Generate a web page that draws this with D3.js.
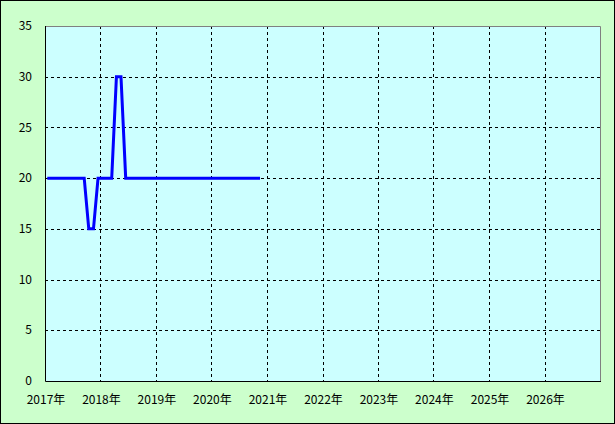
<!DOCTYPE html>
<html>
<head>
<meta charset="utf-8">
<script src="https://cdn.jsdelivr.net/npm/d3@7"></script>
<style>
  html, body { margin: 0; padding: 0; background: #fff; }
  svg { display: block; }
  text { font-family: "Noto Sans CJK JP", "DejaVu Sans", sans-serif; font-size: 12px; fill: #000; }
</style>
</head>
<body>
<div id="chart"></div>
<script>
// monthly readings, Jan 2017 .. Nov 2020
var months = [
    "2017-01", "2017-02", "2017-03", "2017-04", "2017-05", "2017-06",
    "2017-07", "2017-08", "2017-09", "2017-10", "2017-11", "2017-12",
    "2018-01", "2018-02", "2018-03", "2018-04", "2018-05", "2018-06",
    "2018-07", "2018-08", "2018-09", "2018-10", "2018-11", "2018-12",
    "2019-01", "2019-02", "2019-03", "2019-04", "2019-05", "2019-06",
    "2019-07", "2019-08", "2019-09", "2019-10", "2019-11", "2019-12",
    "2020-01", "2020-02", "2020-03", "2020-04", "2020-05", "2020-06",
    "2020-07", "2020-08", "2020-09", "2020-10", "2020-11"
]
var values = [
    20, 20, 20, 20, 20, 20, 20, 20, 20, 15, 15, 20,
    20, 20, 20, 30, 30, 20, 20, 20, 20, 20, 20, 20,
    20, 20, 20, 20, 20, 20, 20, 20, 20, 20, 20, 20,
    20, 20, 20, 20, 20, 20, 20, 20, 20, 20, 20
]
var yearTicks = [2017, 2018, 2019, 2020, 2021, 2022, 2023, 2024, 2025, 2026]
var yTicks = [0, 5, 10, 15, 20, 25, 30, 35]

var width = 615, height = 424
var plot = { left: 45, top: 26, right: 600, bottom: 381 }

var svg = d3.select("#chart")
    .append("svg")
    .attr("width", width)
    .attr("height", height)

// outer background + border
svg.append("rect")
    .attr("x", 0.5).attr("y", 0.5)
    .attr("width", width - 1).attr("height", height - 1)
    .attr("fill", "#ccffcc")
    .attr("stroke", "#000")

svg.append("rect")
    .attr("x", plot.left).attr("y", plot.top)
    .attr("width", plot.right - plot.left).attr("height", plot.bottom - plot.top)
    .attr("fill", "#ccffff")

var parseMonth = d3.timeParse("%Y-%m")

var x_scale = d3.scaleTime()
    .domain([new Date(2017, 0, 1), new Date(2027, 0, 1)])
    .range([plot.left, plot.right])
var y_scale = d3.scaleLinear()
    .domain([0, 35])
    .range([plot.bottom, plot.top])

var data = months.map(function (m, i) {
    var d = parseMonth(m)
    // points sit in the middle of their month
    return { date: d3.timeDay.offset(d, 15), value: values[i] }
})

// grid
var grid = svg.append("g").attr("stroke", "#000").attr("stroke-dasharray", "3,3")
grid.selectAll(".vgrid")
    .data(yearTicks.slice(1))
    .enter().append("line")
    .attr("x1", function (d) { return Math.round(x_scale(new Date(d, 0, 1))) + 0.5 })
    .attr("x2", function (d) { return Math.round(x_scale(new Date(d, 0, 1))) + 0.5 })
    .attr("y1", plot.top)
    .attr("y2", plot.bottom)
grid.selectAll(".hgrid")
    .data(yTicks.slice(1, -1))
    .enter().append("line")
    .attr("x1", plot.left)
    .attr("x2", plot.right)
    .attr("y1", function (d) { return Math.round(y_scale(d)) + 0.5 })
    .attr("y2", function (d) { return Math.round(y_scale(d)) + 0.5 })

// plot frame: grey top/right, black left/bottom
svg.append("path")
    .attr("d", "M" + plot.left + "," + (plot.top + 0.5) + "H" + (plot.right + 0.5) + "V" + plot.bottom)
    .attr("fill", "none").attr("stroke", "#808080")
svg.append("path")
    .attr("d", "M" + (plot.left + 0.5) + "," + plot.top + "V" + (plot.bottom + 0.5) + "H" + (plot.right + 1))
    .attr("fill", "none").attr("stroke", "#000")

// y labels
svg.selectAll(".ylab")
    .data(yTicks)
    .enter().append("text")
    .attr("x", 32)
    .attr("y", function (d) { return y_scale(d) })
    .attr("dy", "0.35em")
    .attr("text-anchor", "end")
    .text(function (d) { return d })

// x labels
svg.selectAll(".xlab")
    .data(yearTicks)
    .enter().append("text")
    .attr("x", function (d) { return x_scale(new Date(d, 0, 1)) + 1 })
    .attr("y", 400)
    .attr("dy", "0.35em")
    .attr("text-anchor", "middle")
    .text(function (d) { return d + "年" })

// series line
var line = d3.line()
    .x(function (d) { return x_scale(d.date) })
    .y(function (d) { return y_scale(d.value) })

svg.append("path")
    .datum(data)
    .attr("d", line)
    .attr("fill", "none")
    .attr("stroke", "#0000ff")
    .attr("stroke-width", 3)
</script>
</body>
</html>
